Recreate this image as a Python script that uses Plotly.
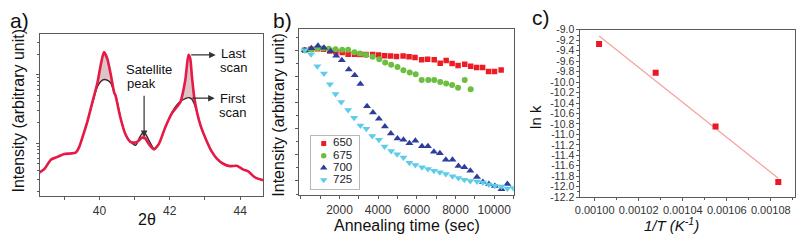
import plotly.graph_objects as go
import numpy as np

# ---------------- Panel a: XRD scans (log intensity, arbitrary units) ----------------
two_theta = [38.25, 38.44, 38.62, 38.81, 39.00, 39.19, 39.33, 39.43, 39.52, 39.66, 39.80, 39.94,
             40.04, 40.13, 40.22, 40.32, 40.42, 40.46, 40.60, 40.74, 40.88, 41.03, 41.12, 41.21,
             41.30, 41.40, 41.55, 41.69, 41.87, 42.06, 42.20, 42.30, 42.44, 42.53, 42.58, 42.63,
             42.69, 42.77, 42.88, 43.05, 43.19, 43.33, 43.52, 43.71, 43.90, 44.09, 44.23, 44.37,
             44.46, 44.66]
last_scan_log = [2.556, 2.625, 2.76, 2.80, 2.842, 2.85, 2.865, 2.95, 3.09, 3.32, 3.60, 3.875,
                 4.15, 4.33, 4.24, 4.01, 3.74, 3.69, 3.365, 3.13, 3.02, 3.01, 3.04, 3.08,
                 3.07, 2.99, 2.91, 2.99, 3.23, 3.435, 3.53, 3.60, 3.92, 4.29, 4.24, 3.97,
                 3.69, 3.46, 3.25, 3.03, 2.88, 2.78, 2.70, 2.665, 2.67, 2.615, 2.59, 2.52,
                 2.49, 2.46]
first_scan_log = [2.556, 2.625, 2.76, 2.80, 2.842, 2.85, 2.865, 2.95, 3.09, 3.32, 3.58, 3.82,
                  3.90, 3.93, 3.92, 3.88, 3.74, 3.70, 3.38, 3.13, 3.02, 2.97, 3.06, 3.14,
                  3.14, 3.05, 2.92, 2.99, 3.23, 3.45, 3.56, 3.61, 3.65, 3.665, 3.66, 3.64,
                  3.58, 3.46, 3.25, 3.03, 2.88, 2.78, 2.70, 2.665, 2.67, 2.615, 2.59, 2.52,
                  2.49, 2.46]
a_xticks = [40, 42, 44]
a_xminor = [39, 41, 43]
a_yticks = [1e3, 1e4]
a_yminor = [200, 300, 400, 500, 600, 700, 800, 900,
            2000, 3000, 4000, 5000, 6000, 7000, 8000, 9000, 20000, 30000, 40000]

# ---------------- Panel b: normalised intensity vs annealing time ----------------
temps = ["650", "675", "700", "725"]
t650 = [202, 525, 850, 1170, 1495, 1815, 2138, 2446, 2771, 3062, 3371, 3713, 4021, 4330, 4638,
        4946, 5289, 5597, 5905, 6249, 6557, 6899, 7207, 7516, 7824, 8132, 8475, 8783, 9091,
        9400, 9708, 10016, 10359]
i650 = [1.0, 1.004, 1.006, 1.004, 0.998, 0.994, 0.9915, 0.985, 0.985, 0.984, 0.984, 0.984, 0.982,
        0.979, 0.978, 0.977, 0.978, 0.976, 0.973, 0.964, 0.966, 0.964, 0.951, 0.961, 0.950,
        0.942, 0.947, 0.939, 0.934, 0.934, 0.919, 0.919, 0.925]
t675 = [202, 528, 853, 1150, 1453, 1795, 2138, 2446, 2771, 3062, 3371, 3713, 4056, 4364, 4672,
        4998, 5306, 5632, 5940, 6249, 6591, 6899, 7207, 7516, 7824, 8132, 8475, 8783]
i675 = [1.0, 1.004, 1.008, 1.007, 1.006, 1.004, 1.002, 1.002, 0.993, 0.988, 0.982, 0.976, 0.966,
        0.954, 0.945, 0.936, 0.924, 0.915, 0.909, 0.887, 0.887, 0.887, 0.879, 0.873, 0.867,
        0.857, 0.887, 0.851]
t700 = [202, 545, 887, 1196, 1538, 1829, 2120, 2480, 2788, 3080, 3422, 3731, 4039, 4347, 4656,
        4998, 5306, 5615, 5923, 6266, 6574, 6882, 7191, 7499, 7842, 8150, 8458, 8766, 9109,
        9417, 9725, 10034, 10376, 10684]
i700 = [1.0, 1.0085, 1.018, 1.0097, 0.9964, 0.979, 0.962, 0.927, 0.905, 0.871, 0.786, 0.762,
        0.738, 0.709, 0.682, 0.663, 0.658, 0.644, 0.654, 0.633, 0.633, 0.612, 0.606, 0.581,
        0.581, 0.557, 0.553, 0.539, 0.515, 0.496, 0.488, 0.481, 0.468, 0.488]
t725 = [202, 528, 853, 1196, 1504, 1795, 2090, 2446, 2754, 3080, 3388, 3697, 4039, 4330, 4673,
        4981, 5307, 5615, 5923, 6266, 6574, 6882, 7191, 7499, 7842, 8150, 8458, 8766, 9109,
        9417, 9725, 10034, 10376, 10684, 10993]
i725 = [1.0, 0.985, 0.939, 0.911, 0.870, 0.833, 0.802, 0.772, 0.742, 0.712, 0.700, 0.672, 0.658,
        0.632, 0.615, 0.602, 0.590, 0.570, 0.561, 0.553, 0.546, 0.539, 0.533, 0.527, 0.518,
        0.511, 0.505, 0.500, 0.498, 0.494, 0.487, 0.482, 0.479, 0.471, 0.473]
b_xticks = [2000, 4000, 6000, 8000, 10000]
b_yticks = [0.5, 0.6, 0.7, 0.8, 0.9, 1.0]

# ---------------- Panel c: Arrhenius plot ----------------
inv_T = [0.0010020, 0.0010277, 0.0010549, 0.0010834]
ln_k = [-9.27, -9.82, -10.85, -11.91]
fit_x = [0.0010020, 0.0010834]
fit_y = [-9.12, -11.84]
c_xticks = [0.00100, 0.00102, 0.00104, 0.00106, 0.00108]
c_yticks = [-9.0, -9.2, -9.4, -9.6, -9.8, -10.0, -10.2, -10.4, -10.6, -10.8, -11.0, -11.2,
            -11.4, -11.6, -11.8, -12.0, -12.2]

FONT = "Liberation Sans, Arial, sans-serif"
AX = "#5a5a5a"
W, H = 800, 245


def px(x):
    return x / W


def py(y):
    return 1 - y / H


fig = go.Figure()

# Panel a traces
fig.add_trace(go.Scatter(x=two_theta, y=np.power(10.0, first_scan_log), mode="lines",
                         line=dict(color="rgb(70,35,40)", width=1.4, shape="spline", smoothing=0.6),
                         xaxis="x", yaxis="y", hoverinfo="skip"))
fig.add_trace(go.Scatter(x=two_theta, y=np.power(10.0, last_scan_log), mode="lines",
                         line=dict(color="rgb(230,26,70)", width=2.6, shape="spline", smoothing=0.6),
                         fill="tonexty", fillcolor="rgba(175,115,122,0.42)",
                         xaxis="x", yaxis="y", hoverinfo="skip"))

# Panel b traces
series_b = [
    (t650, i650, "rgb(237,28,36)", "square", 5.5),
    (t675, i675, "rgb(108,190,64)", "circle", 6),
    (t700, i700, "rgb(44,62,156)", "triangle-up", 7),
    (t725, i725, "rgb(92,204,232)", "triangle-down", 7),
]
for (tx, iy, col, sym, sz), name in zip(series_b, temps):
    fig.add_trace(go.Scatter(x=tx, y=iy, mode="markers", name=name,
                             marker=dict(color=col, symbol=sym, size=sz, line=dict(width=0)),
                             xaxis="x2", yaxis="y2"))

# Panel c traces
fig.add_trace(go.Scatter(x=fit_x, y=fit_y, mode="lines",
                         line=dict(color="rgb(246,160,160)", width=1.2),
                         xaxis="x3", yaxis="y3"))
fig.add_trace(go.Scatter(x=inv_T, y=ln_k, mode="markers",
                         marker=dict(color="rgb(232,24,36)", symbol="square", size=6),
                         xaxis="x3", yaxis="y3"))

# Custom legend for panel b (helper axes)
legend_rows = [3.45, 2.52, 1.59, 0.66]
for (tx, iy, col, sym, sz), name, row in zip(series_b, temps, legend_rows):
    fig.add_trace(go.Scatter(x=[0.265], y=[row], mode="markers",
                             marker=dict(color=col, symbol=sym, size=sz - 0.5),
                             xaxis="x4", yaxis="y4", hoverinfo="skip"))
fig.add_trace(go.Scatter(x=[0.46] * len(temps), y=legend_rows, mode="text", text=temps,
                         textposition="middle right",
                         textfont=dict(family=FONT, size=11.5, color="#222"),
                         xaxis="x4", yaxis="y4", hoverinfo="skip"))

common = dict(showline=True, mirror=True, linecolor=AX, linewidth=1, ticks="outside",
              tickcolor=AX, ticklen=3, showgrid=False, zeroline=False,
              tickfont=dict(family=FONT, size=12, color="#333"))

fig.update_layout(
    width=W, height=H, margin=dict(l=0, r=0, t=0, b=0), autosize=False,
    paper_bgcolor="white", plot_bgcolor="white", showlegend=False,
    font=dict(family=FONT, color="#111"),
    xaxis=dict(domain=[px(35), px(260)], anchor="y", range=[38.305, 44.66],
               tickvals=a_xticks, ticktext=[str(v) for v in a_xticks],
               minor=dict(tickvals=a_xminor, ticks="outside", ticklen=3, tickcolor=AX),
               **common),
    yaxis=dict(domain=[py(200), py(29)], anchor="x", type="log", range=[2.226, 4.601],
               tickvals=a_yticks, showticklabels=False,
               minor=dict(tickvals=a_yminor, ticks="outside", ticklen=2, tickcolor=AX),
               **common),
    xaxis2=dict(domain=[px(296), px(512)], anchor="y2", range=[-87, 11014],
                tickvals=b_xticks, ticktext=[str(v) for v in b_xticks],
                minor=dict(dtick=1000, tick0=0, ticks="outside", ticklen=3, tickcolor=AX),
                **common),
    yaxis2=dict(domain=[py(199), py(24)], anchor="x2", range=[0.4454, 1.0825],
                tickvals=b_yticks, showticklabels=False,
                minor=dict(dtick=0.05, tick0=0, ticks="outside", ticklen=2, tickcolor=AX),
                **common),
    xaxis3=dict(domain=[px(579), px(795)], anchor="y3", range=[0.0009935, 0.001091],
                tickvals=c_xticks, ticktext=[f"{v:.5f}" for v in c_xticks],
                minor=dict(dtick=0.00001, tick0=0, ticks="outside", ticklen=2, tickcolor=AX),
                **{**common, "tickfont": dict(family=FONT, size=11, color="#333")}),
    yaxis3=dict(domain=[py(201), py(25)], anchor="x3", range=[-12.2005, -8.9995],
                tickvals=c_yticks, ticktext=[f"{v:.1f}" for v in c_yticks],
                minor=dict(dtick=0.1, tick0=0, ticks="outside", ticklen=2, tickcolor=AX),
                **{**common, "tickfont": dict(family=FONT, size=10.5, color="#333")}),
    xaxis4=dict(domain=[px(308), px(356)], anchor="y4", range=[0, 1], showline=True, mirror=True,
                linecolor="#b8b8b8", linewidth=1, ticks="", showticklabels=False,
                showgrid=False, zeroline=False),
    yaxis4=dict(domain=[py(192), py(137)], anchor="x4", range=[0, 4], showline=True, mirror=True,
                linecolor="#b8b8b8", linewidth=1, ticks="", showticklabels=False,
                showgrid=False, zeroline=False),
)

ann = []


def text(x, y, s, size, xanchor="center", angle=0, italic=False):
    ann.append(dict(x=px(x), y=py(y), xref="paper", yref="paper", text=s, showarrow=False,
                    xanchor=xanchor, yanchor="middle", textangle=angle, borderpad=0,
                    font=dict(family=FONT, size=size, color="#111",
                              style="italic" if italic else "normal")))


# panel labels
text(4, 15, "a)", 21, xanchor="left")
text(269, 15, "b)", 21, xanchor="left")
text(529, 12, "c)", 21, xanchor="left")

# axis titles
text(14, 110, "Intensity (arbitrary unit)", 16, angle=-90)
text(143, 224, "2θ", 16)
text(275, 114, "Intensity (arbitrary unit)", 16, angle=-90)
text(405, 231, "Annealing time (sec)", 16)
text(534, 117, "ln k", 15, angle=-90)
text(671, 230, "1/T (K<sup>-1</sup>)", 15, italic=True)

# panel a annotations
text(145, 67, "Satellite", 13)
text(122, 82, "peak", 13, xanchor="left")
text(230, 50, "Last", 13)
text(230, 65, "scan", 13)
text(229, 97, "First", 13)
text(229, 112, "scan", 13)

arrow = dict(showarrow=True, arrowhead=2, arrowsize=1.1, arrowwidth=1.2, arrowcolor="#333",
             xref="x", yref="y", axref="pixel", ayref="pixel", text="", standoff=0)
ann.append(dict(x=41.27, y=3.0875, ax=0, ay=-43, **arrow))
ann.append(dict(x=43.305, y=4.289, ax=-26, ay=0, **arrow))
ann.append(dict(x=43.277, y=3.657, ax=-24, ay=0, **arrow))

fig.update_layout(annotations=ann)
fig.write_html("out.html", config={"displayModeBar": False},
               post_script="document.body.style.margin='0';document.body.style.padding='0';")
